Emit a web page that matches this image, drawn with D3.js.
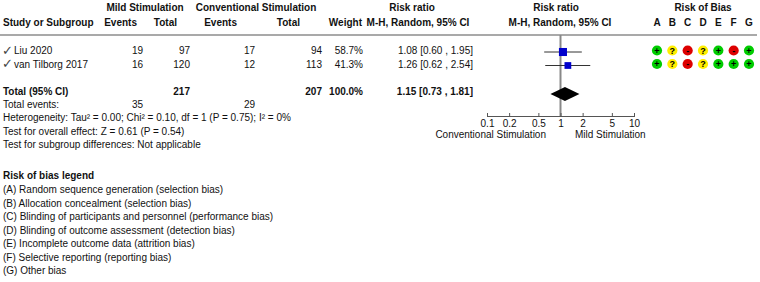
<!DOCTYPE html>
<html>
<head>
<meta charset="utf-8">
<script src="https://cdn.jsdelivr.net/npm/d3@7"></script>
<style>
  body { margin: 0; background: #fff; }
  svg { display: block; font-family: "Liberation Sans", Arial, sans-serif; font-size: 10px; }
</style>
</head>
<body>
<script>
// study rows
const studies = ["Liu 2020", "van Tilborg 2017"];
const mildEvents = [19, 16];
const mildTotal = [97, 120];
const convEvents = [17, 12];
const convTotal = [94, 113];
const weights = [58.7, 41.3];
const ratio = [1.08, 1.26];
const ciLow = [0.60, 0.62];
const ciHigh = [1.95, 2.54];

// pooled
const pooled = { mildN: 217, convN: 207, weight: 100.0, rr: 1.15, lo: 0.73, hi: 1.81, mildEv: 35, convEv: 29 };

const axisTicks = [0.1, 0.2, 0.5, 1, 2, 5, 10];
const biasLetters = ["A", "B", "C", "D", "E", "F", "G"];
const biasJudgements = [
    ["+", "?", "-", "?", "+", "-", "+"],
    ["+", "?", "-", "?", "+", "+", "+"]
];
const footLines = [
    "Heterogeneity: Tau\u00b2 = 0.00; Chi\u00b2 = 0.10, df = 1 (P = 0.75); I\u00b2 = 0%",
    "Test for overall effect: Z = 0.61 (P = 0.54)",
    "Test for subgroup differences: Not applicable"
];
const legendItems = [
    "(A) Random sequence generation (selection bias)",
    "(B) Allocation concealment (selection bias)",
    "(C) Blinding of participants and personnel (performance bias)",
    "(D) Blinding of outcome assessment (detection bias)",
    "(E) Incomplete outcome data (attrition bias)",
    "(F) Selective reporting (reporting bias)",
    "(G) Other bias"
];

let width = 760;
let height = 282;

let svg = d3.select("body").append("svg")
    .attr("width", width)
    .attr("height", height)
    .attr("viewBox", [0, 0, width, height]);

let x = d3.scaleLog().domain([0.1, 10]).range([487, 634]);
let rowY = d3.scalePoint().domain(studies).range([54, 67.5]);
let biasX = d3.scalePoint().domain(biasLetters).range([657, 749]);
let fmt2 = d3.format(".2f");

function txt(xp, yp, s, anchor, bold) {
    return svg.append("text")
        .attr("x", xp).attr("y", yp)
        .attr("text-anchor", anchor || "start")
        .attr("font-weight", bold ? "bold" : null)
        .attr("fill", "#111")
        .text(s);
}

// headers
txt(145, 11, "Mild Stimulation", "middle", true);
txt(256, 11, "Conventional Stimulation", "middle", true);
txt(412, 11, "Risk ratio", "middle", true);
txt(556, 11, "Risk ratio", "middle", true);
txt(703, 11, "Risk of Bias", "middle", true);
txt(3, 26, "Study or Subgroup", "start", true);
txt(137, 26, "Events", "end", true);
txt(177, 26, "Total", "end", true);
txt(237, 26, "Events", "end", true);
txt(300, 26, "Total", "end", true);
txt(362, 26, "Weight", "end", true);
txt(418, 26, "M-H, Random, 95% CI", "middle", true);
txt(560, 26, "M-H, Random, 95% CI", "middle", true);
biasLetters.forEach(l => txt(biasX(l), 26, l, "middle", true));

svg.append("line")
    .attr("x1", 0).attr("x2", 757)
    .attr("y1", 35).attr("y2", 35)
    .attr("stroke", "#555").attr("stroke-width", 1.2);

// study rows
studies.forEach((s, i) => {
    let y = rowY(s);
    txt(2, y + 0.5, "\u2713", "start").attr("fill", "#444").attr("font-size", 13);
    txt(14, y, s);
    txt(143, y, mildEvents[i], "end");
    txt(190, y, mildTotal[i], "end");
    txt(255, y, convEvents[i], "end");
    txt(322, y, convTotal[i], "end");
    txt(363, y, weights[i].toFixed(1) + "%", "end");
    txt(473, y, `${fmt2(ratio[i])} [${fmt2(ciLow[i])} , ${fmt2(ciHigh[i])}]`, "end");
});

// totals
txt(3, 94.5, "Total (95% CI)", "start", true);
txt(190, 94.5, pooled.mildN, "end", true);
txt(322, 94.5, pooled.convN, "end", true);
txt(363, 94.5, pooled.weight.toFixed(1) + "%", "end", true);
txt(473, 94.5, `${fmt2(pooled.rr)} [${fmt2(pooled.lo)} , ${fmt2(pooled.hi)}]`, "end", true);
txt(3, 107.5, "Total events:");
txt(143, 107.5, pooled.mildEv, "end");
txt(255, 107.5, pooled.convEv, "end");
footLines.forEach((l, i) => txt(3, 121 + i * 13.5, l));

// forest plot
svg.append("line")
    .attr("x1", x(1)).attr("x2", x(1))
    .attr("y1", 35).attr("y2", 116)
    .attr("stroke", "#888").attr("stroke-width", 2);

studies.forEach((s, i) => {
    let y = rowY(s) - 2;
    svg.append("line")
        .attr("x1", x(ciLow[i])).attr("x2", x(ciHigh[i]))
        .attr("y1", y).attr("y2", y)
        .attr("stroke", "#333").attr("stroke-width", 1);
    let sz = 1.05 * Math.sqrt(weights[i]);
    svg.append("rect")
        .attr("x", x(ratio[i]) - sz / 2).attr("y", y - sz / 2)
        .attr("width", sz).attr("height", sz)
        .attr("fill", "#0000cc");
});

let dy = 94;
svg.append("path")
    .attr("d", `M${x(pooled.lo)},${dy} L${x(pooled.rr)},${dy - 7} L${x(pooled.hi)},${dy} L${x(pooled.rr)},${dy + 7} Z`)
    .attr("fill", "#000");

let axis = svg.append("g")
    .attr("transform", "translate(0,116)")
    .call(d3.axisBottom(x).tickValues(axisTicks).tickFormat(d => d).tickSize(0).tickPadding(3.5).tickSizeOuter(0))
    .call(g => g.selectAll("text").attr("font-family", "Liberation Sans, Arial, sans-serif").attr("font-size", 10).attr("fill", "#111"));
axis.select(".domain").attr("stroke", "#555");
axis.selectAll(".tick line").attr("y1", -3).attr("y2", 1).attr("stroke", "#555");

txt(546, 138, "Conventional Stimulation", "end");
txt(575, 138, "Mild Stimulation", "start");

// risk of bias dots
const biasColor = { "+": "#00cc00", "?": "#ffee00", "-": "#dd0000" };
biasJudgements.forEach((row, i) => {
    let y = rowY(studies[i]) - 3.5;
    row.forEach((j, k) => {
        let cx = biasX(biasLetters[k]);
        svg.append("circle")
            .attr("cx", cx).attr("cy", y).attr("r", 5.1)
            .attr("fill", biasColor[j]);
        svg.append("text")
            .attr("x", cx).attr("y", y + 3)
            .attr("text-anchor", "middle")
            .attr("font-weight", "bold")
            .attr("font-size", 9)
            .attr("fill", "#000")
            .text(j);
    });
});

// legend
txt(3, 179, "Risk of bias legend", "start", true);
legendItems.forEach((l, i) => txt(3, 193 + i * 13.5, l));
</script>
</body>
</html>
